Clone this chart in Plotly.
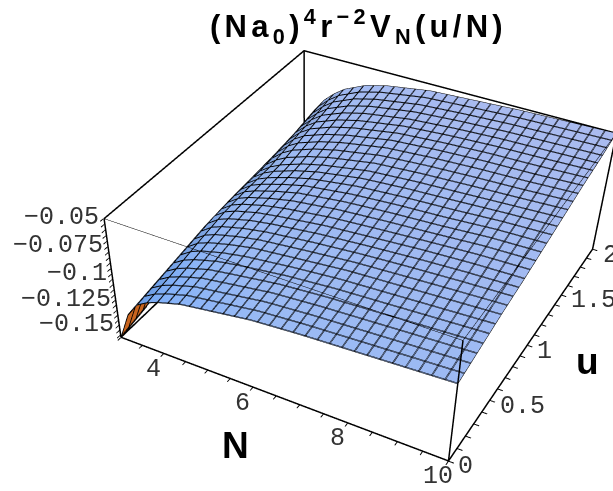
"""(Na0)^4 r^-2 V_N(u/N) surface, Mathematica style box."""
import plotly.graph_objects as go

N_VALUES = [3, 3.25, 3.5, 3.75, 4, 4.5, 5, 6, 7, 8, 9, 10]
U_VALUES = [0, 0.25, 0.5, 0.75, 1, 1.25, 1.5, 1.75, 2]
V_VALUES = [
    [-.162, -.135, -.122, -.116, -.112, -.106, -.103, -.097, -.094, -.092, -.090, -.088],
    [-.156, -.130, -.117, -.111, -.107, -.101, -.098, -.092, -.089, -.087, -.085, -.083],
    [-.150, -.125, -.112, -.105, -.101, -.096, -.092, -.088, -.084, -.082, -.080, -.078],
    [-.144, -.120, -.107, -.100, -.096, -.091, -.088, -.083, -.080, -.077, -.075, -.074],
    [-.140, -.117, -.105, -.098, -.094, -.088, -.083, -.078, -.075, -.073, -.070, -.069],
    [-.138, -.115, -.104, -.097, -.092, -.085, -.080, -.073, -.070, -.068, -.066, -.064],
    [-.135, -.113, -.101, -.092, -.086, -.079, -.074, -.067, -.064, -.062, -.061, -.059],
    [-.131, -.110, -.097, -.088, -.081, -.073, -.068, -.062, -.059, -.057, -.056, -.055],
    [-.125, -.105, -.092, -.083, -.076, -.067, -.062, -.056, -.054, -.052, -.051, -.050],
]

N_RANGE = [3, 10]
U_RANGE = [0, 2]
Z_RANGE = [-0.162, -0.05]

Z_TICKS = [-0.05, -0.075, -0.1, -0.125, -0.15]
Z_LABELS = ["\u22120.05", "\u22120.075", "\u22120.1", "\u22120.125", "\u22120.15"]
N_TICKS = [4, 6, 8, 10]
U_TICKS = [0, 0.5, 1, 1.5, 2]
U_LABELS = ["0", "0.5", "1", "1.5", "2"]

# tall page: the window only shows the top, but the longer focal length
# gives the weak perspective of the original
FIG_W = 613
FIG_H = 1000
TICK_FONT = dict(family="Liberation Mono", size=25, color="#333333")
BOLD = dict(family="Liberation Sans", color="black")
SURFACE_COLORS = [[0, "#3a7ce6"], [0.4, "#7aaefb"], [0.6, "#9abaf4"], [1, "#aabbf0"]]

fig = go.Figure()

# drawn twice with the mesh a pixel apart, gl lines are only 1px wide
for dn, du in [(0, 0), (0.018, 0.0055)]:
    fig.add_trace(go.Surface(
        x=N_VALUES, y=U_VALUES, z=V_VALUES, showscale=False,
        colorscale=SURFACE_COLORS,
        lighting=dict(ambient=0.6, diffuse=0.5, specular=0, fresnel=0),
        lightposition=dict(x=1000, y=-300, z=1000),
        contours=dict(
            x=dict(show=True, start=3 + dn, end=10, size=7 / 29, color="black", width=8),
            y=dict(show=True, start=0 + du, end=2, size=2 / 29, color="black", width=8),
        ),
    ))

# orange underside at the low corner
fig.add_trace(go.Surface(
    x=N_VALUES[:2], y=U_VALUES[:2],
    z=[[v - 0.0005 for v in row[:2]] for row in V_VALUES[:2]],
    showscale=False, colorscale=[[0, "#c8641e"], [1, "#c8641e"]],
    lighting=dict(ambient=1, diffuse=0, specular=0, fresnel=0),
    contours=dict(
        x=dict(show=True, start=3, end=3.25, size=7 / 29, color="black", width=8),
        y=dict(show=True, start=0, end=0.25, size=2 / 29, color="black", width=8),
    ),
))

# box edges
x0, x1 = N_RANGE
y0, y1 = U_RANGE
z0, z1 = Z_RANGE
fig.add_trace(go.Scatter3d(
    x=[x0, x1, x1, x1, None, x1, x1, None, x0, x0, None, x0, x0, x1, None, x0, x0, x0],
    y=[y0, y0, y1, y1, None, y0, y0, None, y0, y0, None, y0, y1, y1, None, y1, y1, y0],
    z=[z0, z0, z0, z1, None, z0, z1, None, z0, z1, None, z1, z1, z1, None, z1, z0, z0],
    mode="lines", line=dict(color="black", width=3), showlegend=False, hoverinfo="skip",
))
fig.add_trace(go.Scatter3d(
    x=[x0, x1, x1], y=[y0, y0, y1], z=[z1, z1, z1],
    mode="lines", line=dict(color="black", width=1), showlegend=False, hoverinfo="skip",
))

labels = []
for v, s in zip(Z_TICKS, Z_LABELS):
    labels.append(dict(x=3, y=0, z=v, text=s, xanchor="right", xshift=-3, yshift=1))
for v in N_TICKS:
    labels.append(dict(x=v, y=0, z=z0, text=str(v), xanchor="center", xshift=-10, yshift=-16))
for v, s in zip(U_TICKS, U_LABELS):
    labels.append(dict(x=10, y=v, z=z0, text=s, xanchor="left", xshift=8, yshift=-6))
for a in labels:
    a.update(showarrow=False, font=TICK_FONT)

axis_common = dict(visible=True, showgrid=False, zeroline=False, showbackground=False,
                   showticklabels=False, showspikes=False, title=dict(text=""),
                   ticks="outside", ticklen=4, tickcolor="black", tickwidth=2)


def paper(x, y, text, size):
    return dict(text=text, x=x / FIG_W, y=1 - y / FIG_H, xref="paper", yref="paper",
                xanchor="center", yanchor="middle", showarrow=False,
                font=dict(size=size, **BOLD))


fig.update_layout(
    width=FIG_W, height=FIG_H,
    margin=dict(l=0, r=0, t=0, b=0),
    paper_bgcolor="white",
    showlegend=False,
    scene=dict(
        domain=dict(x=[0, 1], y=[0, 1]),
        xaxis=dict(range=[2.99, 10.01], dtick=0.5, **axis_common),
        yaxis=dict(range=[-0.003, 2.003], dtick=0.1, **axis_common),
        zaxis=dict(range=[-0.1622, -0.0498], dtick=0.005, **axis_common),
        aspectmode="manual",
        aspectratio=dict(x=1, y=1.042, z=0.386),
        camera=dict(
            eye=dict(x=1.236, y=-2.562, z=1.934),
            center=dict(x=0.654, y=-1.523, z=0.673),
            up=dict(x=0, y=0, z=1),
        ),
        annotations=labels,
    ),
    annotations=[
        paper(358, 26, "<b><span style=\"letter-spacing:4.3px\">(Na<sub>0</sub>)<sup>4</sup>"
                       "r<sup>\u22122</sup>V<sub>N</sub>(u/N)</span></b>", 31),
        paper(235, 445, "<b>N</b>", 37),
        paper(587, 361, "<b>u</b>", 37),
    ],
)

fig.write_html("out.html", config={"displayModeBar": False},
               post_script="document.body.style.margin='0'")
